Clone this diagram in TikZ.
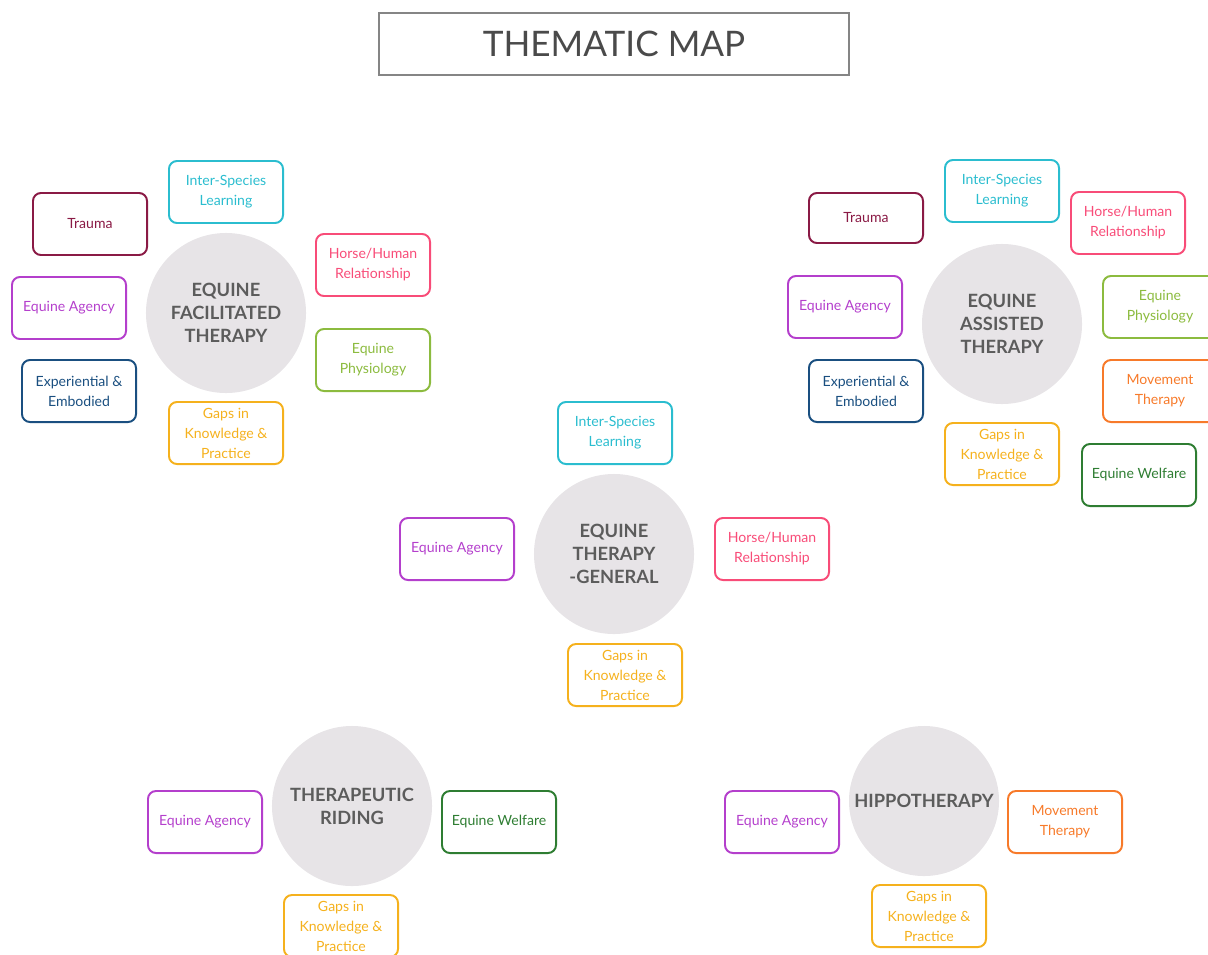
\documentclass[tikz,border=0pt]{standalone}
\usepackage{fontspec}
\setmainfont{Lato}
\definecolor{islcol}{HTML}{2BBDCF}
\definecolor{traumacol}{HTML}{8A1A45}
\definecolor{hhrcol}{HTML}{F84C78}
\definecolor{physiocol}{HTML}{8CBB3F}
\definecolor{agencycol}{HTML}{B43FCC}
\definecolor{expcol}{HTML}{1A4F80}
\definecolor{gapscol}{HTML}{F5B11D}
\definecolor{movecol}{HTML}{F77A2A}
\definecolor{welfarecol}{HTML}{2E7D32}
\definecolor{hubfill}{HTML}{E7E4E7}
\definecolor{hubtext}{HTML}{5C5C5C}
\definecolor{titleline}{HTML}{858585}
\definecolor{titletext}{HTML}{4A4A4A}
\begin{document}
\begin{tikzpicture}[x=0.025cm,y=-0.025cm,
	theme/.style={draw,rounded corners=0.2cm,line width=1.4pt,minimum width=2.85cm,minimum height=1.55cm,inner sep=2pt,align=center,font=\fontsize{10}{14.2}\selectfont},
	hub/.style={circle,fill=hubfill,minimum size=4cm,inner sep=0pt,align=center,text=hubtext,font=\fontsize{13}{16.4}\selectfont\bfseries},
	isl/.style={theme,draw=islcol,text=islcol},
	trauma/.style={theme,draw=traumacol,text=traumacol},
	hhr/.style={theme,draw=hhrcol,text=hhrcol},
	physio/.style={theme,draw=physiocol,text=physiocol},
	agency/.style={theme,draw=agencycol,text=agencycol},
	expemb/.style={theme,draw=expcol,text=expcol},
	gaps/.style={theme,draw=gapscol,text=gapscol},
	movement/.style={theme,draw=movecol,text=movecol},
	welfare/.style={theme,draw=welfarecol,text=welfarecol}]
	\useasboundingbox (0,0) rectangle (1208,954);
	\node[draw=titleline,line width=1.4pt,minimum width=11.75cm,minimum height=1.55cm,text=titletext,font=\fontsize{25}{30}\selectfont] (title) at (614,44) {THEMATIC MAP};
	% equine facilitated therapy
	\node[hub] (eft) at (226,313) {EQUINE\\FACILITATED\\THERAPY};
	\node[trauma] (eft-tr) at (90,224) {Trauma};
	\node[isl] (eft-isl) at (226,192) {Inter-Species\\Learning};
	\node[hhr] (eft-hhr) at (373,265) {Horse/Human\\Relationship};
	\node[agency] (eft-ag) at (69,308) {Equine Agency};
	\node[physio] (eft-ph) at (373,360) {Equine\\Physiology};
	\node[expemb] (eft-ee) at (79,391) {Experiential \&\\Embodied};
	\node[gaps] (eft-gk) at (226,433) {Gaps in\\Knowledge \&\\Practice};
	% equine assisted therapy
	\node[hub] (eat) at (1002,324) {EQUINE\\ASSISTED\\THERAPY};
	\node[trauma,minimum height=1.25cm] (eat-tr) at (866,218) {Trauma};
	\node[isl] (eat-isl) at (1002,191) {Inter-Species\\Learning};
	\node[hhr] (eat-hhr) at (1128,223) {Horse/Human\\Relationship};
	\node[agency] (eat-ag) at (845,307) {Equine Agency};
	\node[physio] (eat-ph) at (1160,307) {Equine\\Physiology};
	\node[expemb] (eat-ee) at (866,391) {Experiential \&\\Embodied};
	\node[movement] (eat-mt) at (1160,391) {Movement\\Therapy};
	\node[gaps] (eat-gk) at (1002,454) {Gaps in\\Knowledge \&\\Practice};
	\node[welfare] (eat-wf) at (1139,475) {Equine Welfare};
	% equine therapy - general
	\node[hub] (etg) at (614,554) {EQUINE\\THERAPY\\-GENERAL};
	\node[isl] (etg-isl) at (615,433) {Inter-Species\\Learning};
	\node[agency] (etg-ag) at (457,549) {Equine Agency};
	\node[hhr] (etg-hhr) at (772,549) {Horse/Human\\Relationship};
	\node[gaps] (etg-gk) at (625,675) {Gaps in\\Knowledge \&\\Practice};
	% therapeutic riding
	\node[hub] (tr) at (352,806) {THERAPEUTIC\\RIDING};
	\node[agency] (tr-ag) at (205,822) {Equine Agency};
	\node[welfare] (tr-wf) at (499,822) {Equine Welfare};
	\node[gaps] (tr-gk) at (341,926) {Gaps in\\Knowledge \&\\Practice};
	% hippotherapy
	\node[hub,minimum size=3.75cm] (hip) at (924,801) {HIPPOTHERAPY};
	\node[agency] (hip-ag) at (782,822) {Equine Agency};
	\node[movement] (hip-mt) at (1065,822) {Movement\\Therapy};
	\node[gaps] (hip-gk) at (929,916) {Gaps in\\Knowledge \&\\Practice};
\end{tikzpicture}
\end{document}
